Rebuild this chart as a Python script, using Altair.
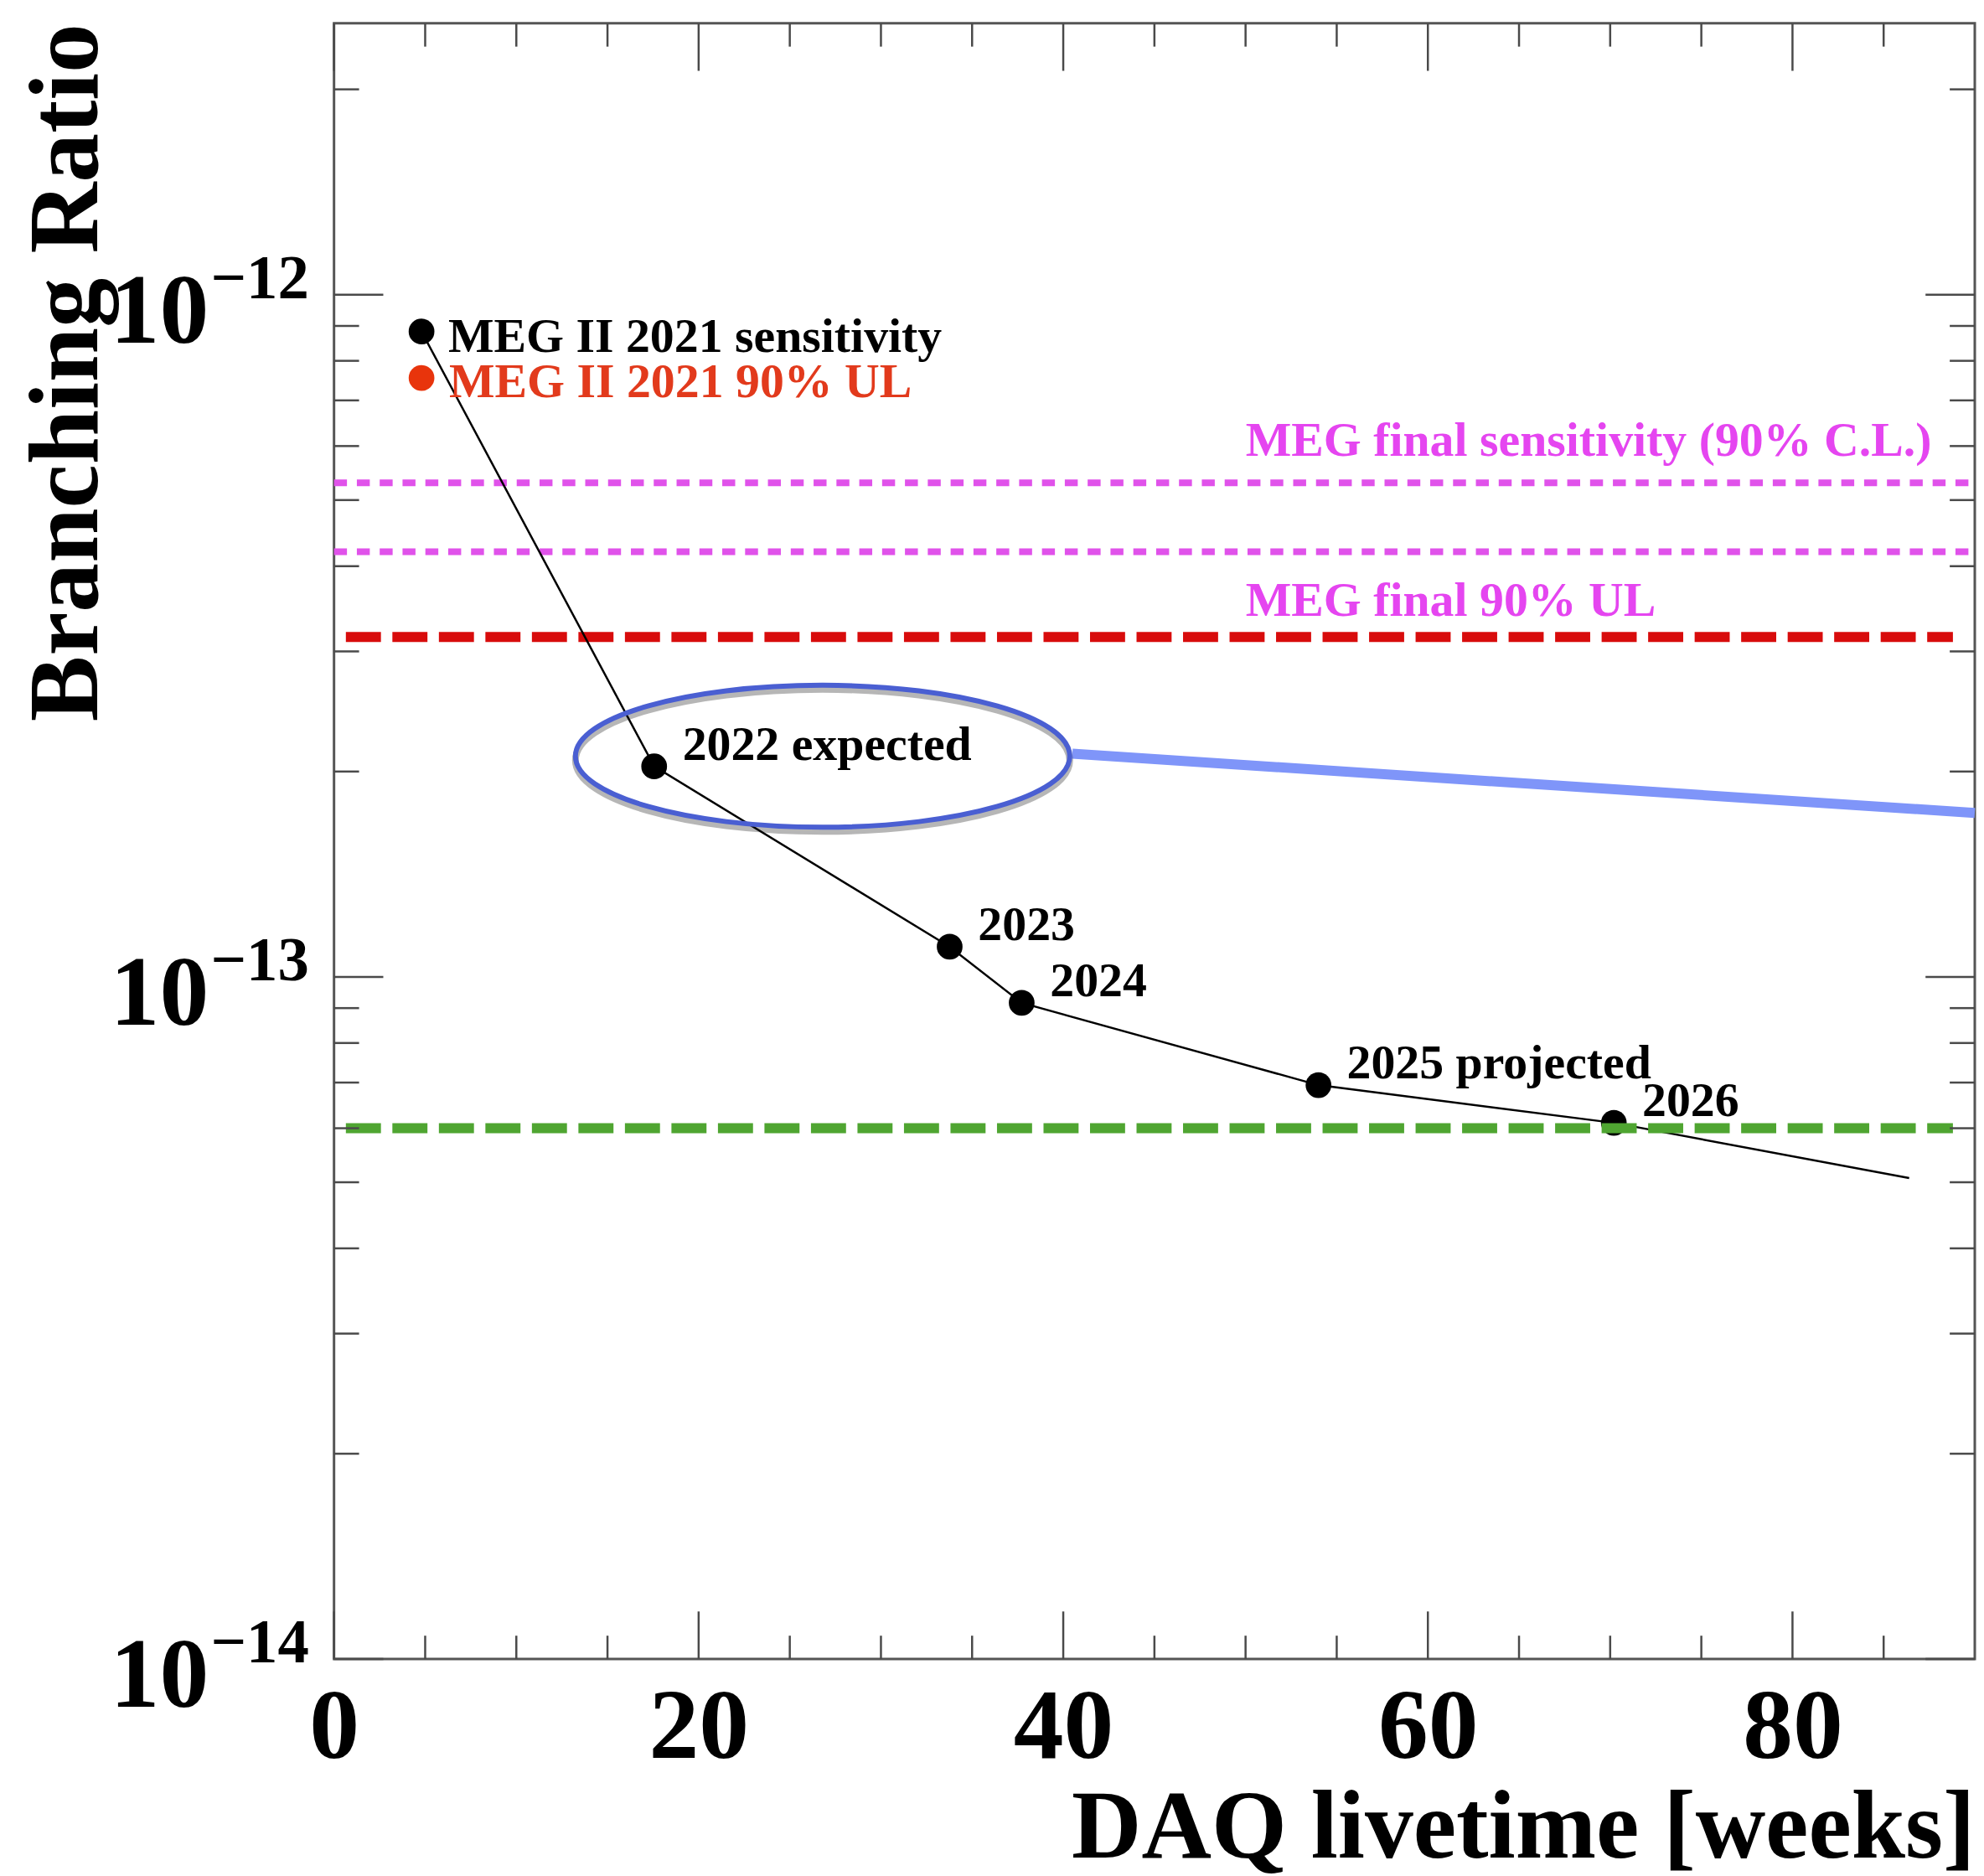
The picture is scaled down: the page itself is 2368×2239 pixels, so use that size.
import altair as alt
import pandas as pd

# ---------------- data ----------------
weeks = [4.8, 17.56, 33.77, 37.72, 54.0, 70.2]
sens = [8.83e-13, 2.035e-13, 1.107e-13, 9.16e-14, 6.94e-14, 6.11e-14]
point_labels = ["MEG II 2021 sensitivity", "2022 expected", "2023", "2024",
                "2025 projected", "2026"]
curve_end_week = 86.4
curve_end_sens = 5.07e-14

ul2021_week = [4.8]
ul2021_value = [7.55e-13]
ul2021_label = ["MEG II 2021 90% UL"]

meg_final_sens = 5.3e-13
meg_final_ul = 4.2e-13
red_dashed_value = 3.15e-13
green_dashed_value = 6.0e-14
meg_sens_label = "MEG final sensitivity (90% C.L.)"
meg_ul_label = "MEG final 90% UL"
label_week = 50.0

dotted_span = [0.0, 90.0]
dashed_span = [0.65, 88.8]

ellipse_week = [26.8]
ellipse_value = [2.106e-13]
pointer_weeks = [40.5, 90.0]
pointer_values = [2.124e-13, 1.739e-13]

x_major = [0, 20, 40, 60, 80]
x_minor = [5, 10, 15, 25, 30, 35, 45, 50, 55, 65, 70, 75, 85]
y_decades = [1e-14, 1e-13, 1e-12]
y_exponents = ["\u221214", "\u221213", "\u221212"]
y_minor = [2e-14, 3e-14, 4e-14, 5e-14, 6e-14, 7e-14, 8e-14, 9e-14,
           2e-13, 3e-13, 4e-13, 5e-13, 6e-13, 7e-13, 8e-13, 9e-13, 2e-12]

# ---------------- style ----------------
W, H = 1965, 1959
FONT = "Liberation Serif"
MAGENTA_LINE = "#e052ea"
MAGENTA_TEXT = "#e545f0"
RED_LINE = "#d80c0c"
RED_PT = "#e8340c"
RED_TEXT = "#e23a1c"
GREEN = "#4fa531"
TICK = "#4a4a4a"

xs = alt.Scale(domain=[0, 90], nice=False, zero=False)
ys = alt.Scale(type="log", domain=[1e-14, 2.5e-12], nice=False)

x_axis = alt.Axis(
    values=x_major, format="d", labelFont=FONT, labelFontWeight="bold",
    labelFontSize=120, labelColor="black", labelPadding=118,
    labelBaseline="alphabetic", labelFlush=False, labelOverlap=False,
    ticks=False, tickSize=0, domain=False, grid=False,
    title="DAQ livetime [weeks]", titleFont=FONT, titleFontWeight="bold",
    titleFontSize=116, titleColor="black", titleX=W, titleY=237,
    titleAlign="right", titleBaseline="alphabetic", titleAnchor="end")
y_axis = alt.Axis(
    labels=False, ticks=False, tickSize=0, domain=False, grid=False,
    title="Branching Ratio", titleFont=FONT, titleFontWeight="bold",
    titleFontSize=118, titleColor="black", titleX=-284, titleY=0,
    titleAngle=270, titleAlign="right", titleBaseline="alphabetic",
    titleAnchor="end")


def X(f="x"):
    return alt.X(f"{f}:Q", scale=xs, axis=x_axis, title="DAQ livetime [weeks]")


def Y(f="y"):
    return alt.Y(f"{f}:Q", scale=ys, axis=y_axis, title="Branching Ratio")


# horizontal reference lines
mag_df = pd.DataFrame({"x": [dotted_span[0]] * 2, "x2": [dotted_span[1]] * 2,
                       "y": [meg_final_sens, meg_final_ul]})
magenta = alt.Chart(mag_df).mark_rule(color=MAGENTA_LINE, strokeWidth=8,
                                      strokeDash=[15.5, 11.85]).encode(
    x=X(), x2="x2:Q", y=Y())

red_df = pd.DataFrame({"x": [dashed_span[0]], "x2": [dashed_span[1]], "y": [red_dashed_value]})
red_line = alt.Chart(red_df).mark_rule(color=RED_LINE, strokeWidth=12,
                                       strokeDash=[42, 13.7]).encode(
    x=X(), x2="x2:Q", y=Y())

green_df = pd.DataFrame({"x": [dashed_span[0]], "x2": [dashed_span[1]], "y": [green_dashed_value]})
green_line = alt.Chart(green_df).mark_rule(color=GREEN, strokeWidth=12,
                                           strokeDash=[42, 13.7]).encode(
    x=X(), x2="x2:Q", y=Y())

# sensitivity curve
curve_df = pd.DataFrame({"x": weeks + [curve_end_week], "y": sens + [curve_end_sens]})
curve = alt.Chart(curve_df).mark_line(color="black", strokeWidth=2.5).encode(x=X(), y=Y())

pts_df = pd.DataFrame({"x": weeks, "y": sens, "label": point_labels})
points = alt.Chart(pts_df).mark_circle(size=950, color="black", opacity=1).encode(x=X(), y=Y())

ul_df = pd.DataFrame({"x": ul2021_week, "y": ul2021_value, "label": ul2021_label})
ul_point = alt.Chart(ul_df).mark_circle(size=950, color=RED_PT, opacity=1).encode(x=X(), y=Y())

# pointer line and ellipse
ptr_df = pd.DataFrame({"x": pointer_weeks, "y": pointer_values})
pointer = alt.Chart(ptr_df).mark_line(color="#7f95f9", strokeWidth=12).encode(x=X(), y=Y())

ELLIPSE = ("M -1 0 C -1 -0.1586 -0.5523 -0.2872 0 -0.2872 "
           "C 0.5523 -0.2872 1 -0.1586 1 0 "
           "C 1 0.1586 0.5523 0.2872 0 0.2872 "
           "C -0.5523 0.2872 -1 0.1586 -1 0 Z")
ell_df = pd.DataFrame({"x": ellipse_week, "y": ellipse_value})
ell_shadow = alt.Chart(ell_df).mark_point(shape=ELLIPSE, size=350464, filled=False,
                                          color="#111111", opacity=0.3, strokeWidth=8,
                                          yOffset=5).encode(x=X(), y=Y())
ellipse = alt.Chart(ell_df).mark_point(shape=ELLIPSE, size=350464, filled=False,
                                       color="#4a5fd2", opacity=1, strokeWidth=6).encode(x=X(), y=Y())

# point labels
txt = dict(font=FONT, fontWeight="bold", fontSize=58, align="left", baseline="alphabetic")
year_text = alt.Chart(pts_df.iloc[1:]).mark_text(dx=34, dy=-8, color="black", **txt).encode(
    x=X(), y=Y(), text="label:N")
first_text = alt.Chart(pts_df.iloc[:1]).mark_text(dx=32, dy=24, color="black", **txt).encode(
    x=X(), y=Y(), text="label:N")
ul_text = alt.Chart(ul_df).mark_text(dx=33, dy=23, color=RED_TEXT, **txt).encode(
    x=X(), y=Y(), text="label:N")

ms_df = pd.DataFrame({"x": [label_week], "y": [meg_final_sens], "label": [meg_sens_label]})
mu_df = pd.DataFrame({"x": [label_week], "y": [meg_final_ul], "label": [meg_ul_label]})
ms_text = alt.Chart(ms_df).mark_text(dy=-32, color=MAGENTA_TEXT, **txt).encode(
    x=X(), y=Y(), text="label:N")
mu_text = alt.Chart(mu_df).mark_text(dy=77, color=MAGENTA_TEXT, **txt).encode(
    x=X(), y=Y(), text="label:N")

# y-axis labels 10^n
dec_df = pd.DataFrame({"v": y_decades, "base": ["10"] * 3, "e": y_exponents})
tens = alt.Chart(dec_df).mark_text(font=FONT, fontWeight="bold", fontSize=118, align="right",
                                   baseline="alphabetic", dy=57, color="black").encode(
    y=Y("v"), x=alt.value(-150), text="base:N")
exps = alt.Chart(dec_df).mark_text(font=FONT, fontWeight="bold", fontSize=75, align="right",
                                   baseline="alphabetic", dy=4, color="black").encode(
    y=Y("v"), x=alt.value(-30), text="e:N")


# inward ticks on all four sides
def x_ticks(values, length):
    df = pd.DataFrame({"v": values})
    base = alt.Chart(df).mark_rule(color=TICK, strokeWidth=2.5)
    return [base.encode(x=X("v"), y=alt.value(H), y2=alt.value(H - length)),
            base.encode(x=X("v"), y=alt.value(0), y2=alt.value(length))]


def y_ticks(values, length):
    df = pd.DataFrame({"v": values})
    base = alt.Chart(df).mark_rule(color=TICK, strokeWidth=2.5)
    return [base.encode(y=Y("v"), x=alt.value(0), x2=alt.value(length)),
            base.encode(y=Y("v"), x=alt.value(W), x2=alt.value(W - length))]


ticks = (x_ticks(x_major, 57) + x_ticks(x_minor, 28)
         + y_ticks(y_decades, 59) + y_ticks(y_minor, 30))

chart = alt.layer(
    magenta, red_line, curve, points, ul_point, green_line, pointer,
    ell_shadow, ellipse, year_text, first_text, ul_text, ms_text, mu_text,
    tens, exps, *ticks
).properties(
    width=W, height=H,
    autosize=alt.AutoSizeParams(type="none"),
    padding={"left": 392, "top": 16, "right": 3, "bottom": 262},
    background="white",
).configure_view(stroke="#555555", strokeWidth=3)

chart.save("out.html", embed_options={"renderer": "svg", "actions": False})
